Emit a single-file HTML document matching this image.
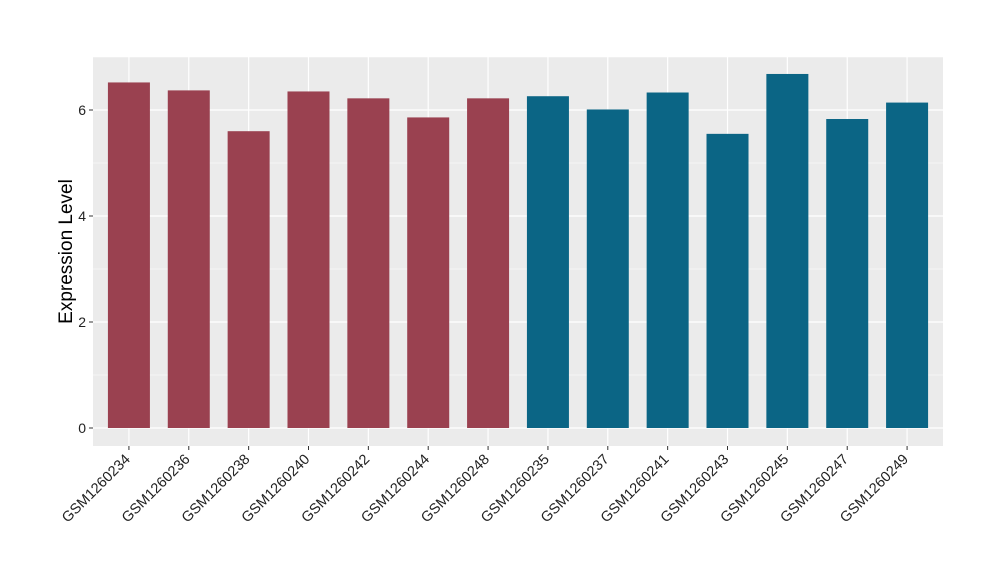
<!DOCTYPE html>
<html><head><meta charset="utf-8"><style>body{margin:0;background:#fff}svg{display:block;font-family:"Liberation Sans",sans-serif}</style></head>
<body>
<svg id="c" width="1000" height="580"></svg>
<script>
const categories=["GSM1260234","GSM1260236","GSM1260238","GSM1260240","GSM1260242","GSM1260244","GSM1260248","GSM1260235","GSM1260237","GSM1260241","GSM1260243","GSM1260245","GSM1260247","GSM1260249"];
const values=[6.52,6.37,5.60,6.35,6.22,5.86,6.22,6.26,6.01,6.33,5.55,6.68,5.83,6.14];
const groups=[0,0,0,0,0,0,0,1,1,1,1,1,1,1];
const yTicks=[0,2,4,6];
const colors=["#9a4150","#0b6585"];
const svg=document.getElementById('c');const NS="http://www.w3.org/2000/svg";
const L=93,R=943,T=57,B=446;
const y=v=>428-v*53;
const n=categories.length;
const step=(R-L)/(n+0.2);
const x=i=>L+step*(i+0.6);
function mk(t,a,p){const e=document.createElementNS(NS,t);for(const k in a)e.setAttribute(k,a[k]);(p||svg).appendChild(e);return e;}
const bg=mk('rect',{x:L,y:T,width:R-L,height:B-T,fill:'#ebebeb'});


for(let i=0;i<yTicks.length;i++){const m=yTicks[i]+1;const g=mk('line',{x1:L,x2:R,y1:y(m),y2:y(m),stroke:'#fff','stroke-width':0.6});

}
yTicks.forEach(t=>{const g=mk('line',{x1:L,x2:R,y1:y(t),y2:y(t),stroke:'#fff','stroke-width':1.2});


mk('line',{x1:L-4,x2:L,y1:y(t),y2:y(t),stroke:'#333'});
const tx=mk('text',{x:L-7,y:y(t)+5,'text-anchor':'end','font-size':14,fill:'#222'});tx.textContent=t;

});
categories.forEach((c,i)=>{const cx=x(i);
mk('line',{x1:cx,x2:cx,y1:T,y2:B,stroke:'#fff','stroke-width':1.2});
const b=mk('rect',{x:cx-21,y:y(values[i]),width:42,height:y(0)-y(values[i]),fill:colors[groups[i]]});


mk('line',{x1:cx,x2:cx,y1:B,y2:B+4,stroke:'#333'});
const t=mk('text',{x:cx+2,y:B+14,'text-anchor':'end','font-size':14.5,fill:'#222',transform:`rotate(-45 ${cx+2} ${B+14})`});t.textContent=c;

});
const yt=mk('text',{x:72,y:(T+B)/2,'text-anchor':'middle','font-size':19,fill:'#000',transform:`rotate(-90 72 ${(T+B)/2})`});yt.textContent="Expression Level";


</script>
</body></html>
